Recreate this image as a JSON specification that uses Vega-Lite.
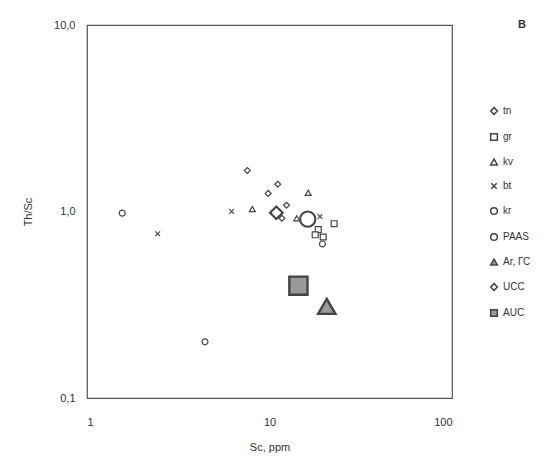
{
  "$schema": "https://vega.github.io/schema/vega-lite/v6.json",
  "width": 365,
  "height": 373,
  "autosize": {"type": "none"},
  "padding": {"left": 87, "top": 25, "right": 96, "bottom": 63},
  "background": "white",
  "config": {
    "view": {"stroke": "#555", "strokeWidth": 1.2},
    "font": "Liberation Sans",
    "axis": {"grid": false, "domain": false, "ticks": false, "labelColor": "#333", "titleColor": "#333", "labelFontSize": 11, "titleFontSize": 11, "titleFontWeight": "normal"}
  },
  "data": {
    "values": [
      {"group": "kr", "sc": 1.56, "thsc": 0.98},
      {"group": "kr", "sc": 4.43, "thsc": 0.2},
      {"group": "kr", "sc": 19.5, "thsc": 0.67},
      {"group": "bt", "sc": 2.44, "thsc": 0.76},
      {"group": "bt", "sc": 6.2, "thsc": 1.0},
      {"group": "bt", "sc": 18.9, "thsc": 0.94},
      {"group": "kv", "sc": 8.05, "thsc": 1.03},
      {"group": "kv", "sc": 16.3, "thsc": 1.26},
      {"group": "kv", "sc": 14.1, "thsc": 0.92},
      {"group": "tn", "sc": 7.56, "thsc": 1.66},
      {"group": "tn", "sc": 11.1, "thsc": 1.4},
      {"group": "tn", "sc": 9.84, "thsc": 1.25},
      {"group": "tn", "sc": 12.4, "thsc": 1.08},
      {"group": "tn", "sc": 11.7, "thsc": 0.92},
      {"group": "gr", "sc": 22.6, "thsc": 0.86},
      {"group": "gr", "sc": 18.5, "thsc": 0.8},
      {"group": "gr", "sc": 17.8, "thsc": 0.75},
      {"group": "gr", "sc": 19.7, "thsc": 0.73},
      {"group": "UCC", "sc": 10.9, "thsc": 0.985},
      {"group": "PAAS", "sc": 16.2, "thsc": 0.91},
      {"group": "AUC", "sc": 14.4, "thsc": 0.4},
      {"group": "Ar, ГС", "sc": 20.6, "thsc": 0.31}
    ]
  },
  "layer": [
    {
      "mark": {"type": "point", "filled": false, "stroke": "#444", "opacity": 1},
      "encoding": {
        "x": {"field": "sc", "type": "quantitative", "title": "Sc, ppm",
          "scale": {"type": "log", "domain": [1, 100]},
          "axis": {"values": [1, 10, 100], "format": "d", "labelPadding": 18, "titlePadding": 14}},
        "y": {"field": "thsc", "type": "quantitative", "title": "Th/Sc",
          "scale": {"type": "log", "domain": [0.1, 10]},
          "axis": {"values": [0.1, 1, 10], "labelExpr": "replace(format(datum.value, '.1f'), '.', ',')", "labelPadding": 12, "titlePadding": 20}},
        "shape": {"field": "group", "type": "ordinal",
          "scale": {"type": "ordinal", "domain": ["tn", "gr", "kv", "bt", "kr", "PAAS", "Ar, ГС", "UCC", "AUC"],
            "range": ["diamond", "square", "triangle-up", "M-0.8,-0.8L0.8,0.8M-0.8,0.8L0.8,-0.8", "circle", "circle", "triangle-up", "diamond", "square"]},
          "legend": {"title": null, "orient": "none", "legendX": 402, "legendY": 81, "labelFontSize": 10, "labelColor": "#333", "rowPadding": 12, "labelOffset": 4, "symbolSize": 45,
            "encode": {"symbols": {"update": {"stroke": {"value": "#444"}, "strokeWidth": {"value": 1.3}}}}}},
        "size": {
          "condition": [
            {"test": "datum.group === 'PAAS'", "value": 230},
            {"test": "datum.group === 'Ar, ГС'", "value": 300},
            {"test": "datum.group === 'UCC'", "value": 160},
            {"test": "datum.group === 'AUC'", "value": 330}
          ],
          "value": 35},
        "strokeWidth": {
          "condition": [
            {"test": "datum.group === 'PAAS' || datum.group === 'UCC'", "value": 2.1},
            {"test": "datum.group === 'Ar, ГС' || datum.group === 'AUC'", "value": 2.4}
          ],
          "value": 1.2},
        "fill": {"field": "group", "type": "ordinal",
          "scale": {"type": "ordinal", "domain": ["tn", "gr", "kv", "bt", "kr", "PAAS", "Ar, ГС", "UCC", "AUC"],
            "range": ["white", "white", "white", "white", "white", "white", "#999", "white", "#999"]}}
      }
    },
    {
      "data": {"values": [{"label": "В"}]},
      "mark": {"type": "text", "x": 435, "y": 0, "fontSize": 11, "fontWeight": "bold", "color": "#333"},
      "encoding": {"text": {"field": "label"}}
    }
  ]
}
